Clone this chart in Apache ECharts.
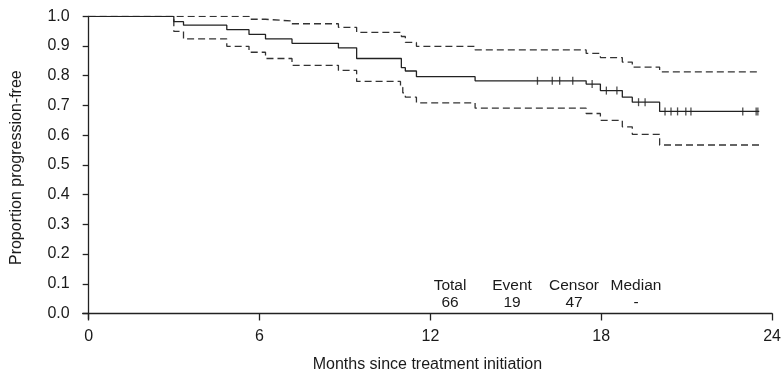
<!DOCTYPE html>
<html>
<head>
<meta charset="utf-8">
<script src="https://cdn.jsdelivr.net/npm/echarts@6/dist/echarts.min.js"></script>
<style>html,body{margin:0;padding:0;background:#fff}#c{width:784px;height:378px}</style>
</head>
<body>
<div id="c"></div>
<script>
// Kaplan-Meier estimate: event times and survival after each step
const kmTimes = [0, 2.99, 3.33, 4.85, 5.63, 6.21, 7.14, 8.77, 9.41, 10.98, 11.12, 11.51, 13.57, 17.47, 17.97, 18.74, 19.09, 20.05, 23.55];
const kmSurv  = [1.0, 0.982, 0.970, 0.955, 0.939, 0.924, 0.909, 0.894, 0.858, 0.827, 0.816, 0.797, 0.783, 0.772, 0.750, 0.728, 0.711, 0.680, 0.680];
// Upper confidence band
const upTimes = [0, 5.63, 6.21, 7.14, 8.77, 9.41, 10.98, 11.12, 11.51, 13.57, 17.47, 17.97, 18.74, 19.09, 20.05, 23.6];
const upSurv  = [1.0, 0.990, 0.984, 0.975, 0.963, 0.946, 0.932, 0.912, 0.899, 0.887, 0.875, 0.861, 0.846, 0.829, 0.813, 0.813];
// Lower confidence band
const loTimes = [0, 2.99, 3.33, 4.85, 5.63, 6.21, 7.14, 8.77, 9.41, 10.95, 11.03, 11.12, 11.51, 13.57, 17.47, 17.97, 18.74, 19.09, 20.05, 23.6];
const loSurv  = [1.0, 0.949, 0.924, 0.899, 0.879, 0.858, 0.835, 0.818, 0.781, 0.761, 0.742, 0.728, 0.709, 0.691, 0.673, 0.650, 0.628, 0.603, 0.567, 0.567];
// Censoring times (marks on KM curve)
const censorTimes = [15.76, 16.28, 16.54, 17.0, 17.68, 18.18, 18.55, 19.31, 19.54, 20.24, 20.45, 20.68, 20.97, 21.15, 22.97, 23.44, 23.5];
// Tick labels
const xTicks = [0, 6, 12, 18, 24];
const yTicks = [0, 0.1, 0.2, 0.3, 0.4, 0.5, 0.6, 0.7, 0.8, 0.9, 1.0];
// Summary table
const tableHeaders = ['Total', 'Event', 'Censor', 'Median'];
const tableValues = ['66', '19', '47', '-'];
const tableX = [450, 512, 574, 636];

function kmAt(t) {
  let s = kmSurv[0];
  for (let i = 0; i < kmTimes.length; i++) { if (kmTimes[i] <= t) s = kmSurv[i]; }
  return s;
}
const zip = (a, b) => a.map((v, i) => [v, b[i]]);

const FONT = 'Liberation Sans, Arial, Helvetica, sans-serif';
const chart = echarts.init(document.getElementById('c'));
const graphics = [];
tableHeaders.forEach((h, i) => {
  graphics.push({type: 'text', x: tableX[i], y: 286, style: {text: h, font: '15.5px ' + FONT, fill: '#1a1a1a', textAlign: 'center', textVerticalAlign: 'middle'}});
  graphics.push({type: 'text', x: tableX[i], y: 303, style: {text: tableValues[i], font: '15.5px ' + FONT, fill: '#1a1a1a', textAlign: 'center', textVerticalAlign: 'middle'}});
});

chart.setOption({
  animation: false,
  backgroundColor: '#fff',
  grid: {left: 82.7, right: 8, top: 16.3, bottom: 54.7, containLabel: false},
  xAxis: {
    type: 'value', min: -0.21, max: 24,
    name: 'Months since treatment initiation', nameLocation: 'middle', nameGap: 38,
    nameTextStyle: {fontFamily: FONT, fontSize: 16, color: '#1a1a1a'},
    axisLine: {show: true, lineStyle: {color: '#222', width: 1.3}},
    axisTick: {show: true, length: 7, customValues: xTicks, lineStyle: {color: '#222', width: 1.3}},
    axisLabel: {customValues: xTicks, margin: 10, fontFamily: FONT, fontSize: 16, color: '#1a1a1a'},
    splitLine: {show: false}
  },
  yAxis: {
    type: 'value', min: -0.0186, max: 1.0,
    name: 'Proportion progression-free', nameLocation: 'middle', nameGap: 58,
    nameTextStyle: {fontFamily: FONT, fontSize: 16, color: '#1a1a1a'},
    axisLine: {show: true, lineStyle: {color: '#222', width: 1.3}},
    axisTick: {show: true, length: 6, customValues: yTicks, lineStyle: {color: '#222', width: 1.3}},
    axisLabel: {customValues: yTicks, margin: 13, fontFamily: FONT, fontSize: 16, color: '#1a1a1a', formatter: v => v.toFixed(1)},
    splitLine: {show: false}
  },
  series: [
    {type: 'line', step: 'end', data: zip(upTimes, upSurv), symbol: 'none', lineStyle: {color: '#333', width: 1.3, type: [7, 4]}},
    {type: 'line', step: 'end', data: zip(loTimes, loSurv), symbol: 'none', lineStyle: {color: '#333', width: 1.3, type: [7, 4]}},
    {type: 'line', step: 'end', data: zip(kmTimes, kmSurv), symbol: 'none', lineStyle: {color: '#222', width: 1.3}},
    {type: 'scatter', data: censorTimes.map(t => [t, kmAt(t)]), symbol: 'rect', symbolSize: [1.3, 8], itemStyle: {color: '#222'}}
  ],
  graphic: graphics
});
</script>
</body>
</html>
